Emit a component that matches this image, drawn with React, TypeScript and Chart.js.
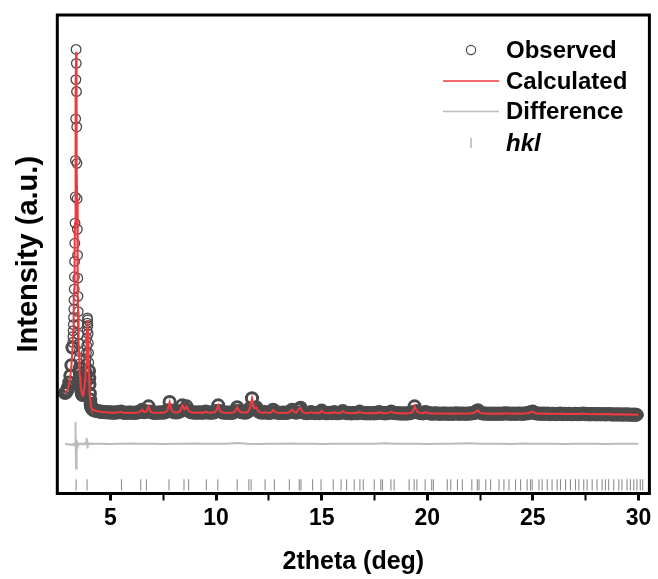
import { useEffect, useRef } from 'react';
import { Chart, registerables } from 'chart.js';
Chart.register(...registerables);

// ---- Data ----
// Main low-angle peak region (2theta, observed, calculated, difference)
const peakTheta = [
  2.85, 2.9, 2.95, 3.0, 3.05, 3.1, 3.15, 3.2,
  3.21, 3.22, 3.23, 3.24, 3.25, 3.26, 3.27, 3.28, 3.29, 3.3,
  3.31, 3.32, 3.33, 3.34, 3.35, 3.36, 3.37, 3.38, 3.39, 3.4,
  3.41, 3.42, 3.43, 3.44, 3.45, 3.46, 3.47, 3.48, 3.49, 3.5,
  3.51, 3.52, 3.53, 3.54, 3.55, 3.56, 3.57, 3.58, 3.59, 3.6,
  3.62, 3.64, 3.66, 3.68, 3.7, 3.72, 3.74, 3.76, 3.78, 3.8, 3.82, 3.84,
  3.85, 3.86, 3.87, 3.88, 3.89, 3.9, 3.91, 3.92, 3.93, 3.94, 3.95, 3.96, 3.97, 3.98, 3.99, 4.0,
  4.02, 4.04, 4.06, 4.08, 4.1, 4.15, 4.2, 4.25,
];
const peakObs = [
  21.0, 21.2, 21.6, 22.2, 23.2, 24.6, 26.8, 30.5,
  31.6, 32.8, 34.0, 35.3, 36.8, 38.5, 40.4, 42.7, 45.3, 48.5,
  52.3, 56.5, 62.0, 69.6, 78.3, 86.5, 92.8, 89.9, 84.0, 76.6,
  69.0, 61.6, 55.2, 49.8, 45.0, 41.2, 38.0, 35.4, 33.2, 31.3,
  29.7, 28.3, 27.1, 26.1, 25.2, 24.4, 23.7, 23.1, 22.6, 22.2,
  21.5, 21.0, 20.7, 20.6, 20.7, 21.0, 21.5, 22.2, 23.0, 24.0, 25.3, 27.0,
  28.1, 29.4, 30.9, 32.5, 34.1, 35.6, 36.7, 36.3, 35.1, 33.4, 31.4, 29.4, 27.4, 25.6, 24.1, 22.8,
  20.9, 19.6, 18.7, 18.2, 17.9, 17.6, 17.45, 17.35,
];
const peakCalc = [
  21.0, 21.2, 21.6, 22.2, 23.2, 24.6, 26.8, 30.5,
  31.6, 32.8, 34.0, 35.3, 36.8, 38.5, 40.4, 42.7, 45.3, 48.5,
  52.3, 56.5, 62.0, 68.5, 76.0, 85.0, 92.3, 91.5, 85.0, 77.0,
  69.0, 61.6, 55.2, 49.8, 45.0, 41.2, 38.0, 35.4, 33.2, 31.3,
  29.7, 28.3, 27.1, 26.1, 25.2, 24.4, 23.7, 23.1, 22.6, 22.2,
  21.5, 21.0, 20.7, 20.6, 20.7, 21.0, 21.5, 22.2, 23.0, 24.0, 25.3, 27.0,
  28.1, 29.4, 30.9, 32.5, 34.1, 35.3, 36.3, 36.0, 35.1, 33.4, 31.4, 29.4, 27.4, 25.6, 24.1, 22.8,
  20.9, 19.6, 18.7, 18.2, 17.9, 17.6, 17.45, 17.35,
];
const peakDiff = [
  10.4, 10.35, 10.3, 10.3, 10.25, 10.2, 10.2, 10.3,
  10.3, 10.3, 10.35, 10.3, 10.4, 10.4, 10.3, 10.4, 10.5, 10.6,
  10.4, 10.2, 9.8, 11.6, 15.0, 12.4, 5.2, 7.8, 11.2, 10.9,
  10.0, 10.6, 10.3, 10.4, 10.4, 10.45, 10.4, 10.4, 10.35, 10.4,
  10.4, 10.45, 10.4, 10.4, 10.4, 10.35, 10.4, 10.4, 10.4, 10.4,
  10.4, 10.4, 10.45, 10.4, 10.4, 10.4, 10.35, 10.4, 10.4, 10.4, 10.45, 10.4,
  10.4, 10.5, 10.8, 11.6, 10.9, 9.4, 10.0, 10.6, 10.4, 10.4, 10.4, 10.35, 10.4, 10.4, 10.4, 10.4,
  10.4, 10.4, 10.4, 10.45, 10.4, 10.4, 10.4, 10.4,
];

// Background region 4.3 .. 30.0 deg, step 0.1 (observed ~ calculated)
const baseStart = 4.3;
const baseStep = 0.1;
const baseProfile = [
  17.3, 17.2, 17.1, 17.05, 17.0, 17.0, 16.95,
  16.95, 16.9, 16.9, 16.95, 17.0, 17.1, 16.9, 16.85, 16.9, 16.9,
  16.9, 16.85, 16.9, 16.95, 17.1, 17.5, 17.0, 17.1, 18.2, 17.1,
  16.9, 16.85, 16.9, 16.9, 16.95, 16.9, 17.0, 17.4, 19.1, 17.3,
  17.0, 16.95, 17.0, 17.2, 18.4, 17.6, 18.2, 17.3, 17.0, 16.95,
  16.9, 16.9, 16.95, 16.9, 16.9, 17.1, 16.95, 16.9, 16.9, 16.95,
  17.2, 18.4, 17.2, 16.95, 16.9, 16.9, 16.9, 16.85, 16.9, 17.2,
  18.0, 17.2, 17.0, 16.95, 16.9, 17.1, 17.8, 19.9, 17.8, 18.0,
  17.2, 16.95, 16.9, 17.0, 16.9, 16.85, 16.9, 17.5, 17.0, 16.9,
  16.85, 16.85, 16.9, 16.85, 16.9, 17.1, 17.5, 17.0, 16.9, 17.6,
  17.9, 17.0, 16.85, 16.8, 16.85, 17.0, 16.85, 16.8, 16.85, 16.8,
  17.3, 16.9, 16.8, 16.8, 16.85, 16.8, 17.0, 16.8, 16.8, 16.9,
  17.2, 16.9, 16.8, 16.8, 16.75, 16.8, 16.8, 16.8, 17.1, 16.85,
  16.8, 16.75, 16.8, 16.75, 16.8, 16.75, 16.8, 17.0, 16.9, 16.8,
  16.75, 16.8, 16.9, 17.1, 16.85, 16.8, 16.75, 16.75, 16.7, 16.75,
  16.7, 16.75, 16.8, 17.0, 18.2, 17.2, 16.9, 16.8, 16.75, 17.0,
  16.9, 16.75, 16.7, 16.7, 16.75, 16.7, 16.65, 16.7, 16.7, 16.7,
  16.65, 16.7, 16.65, 16.7, 16.75, 16.65, 16.7, 16.7, 16.65, 16.7,
  16.7, 16.75, 16.8, 17.1, 17.4, 16.9, 16.75, 16.7, 16.7, 16.65,
  16.7, 16.65, 16.7, 16.65, 16.7, 16.65, 16.7, 16.75, 16.7, 16.7,
  16.65, 16.7, 16.65, 16.7, 16.7, 16.65, 16.7, 16.75, 16.8, 17.0,
  17.1, 16.8, 16.7, 16.7, 16.65, 16.7, 16.65, 16.7, 16.6, 16.65,
  16.65, 16.6, 16.65, 16.7, 16.6, 16.65, 16.6, 16.65, 16.6, 16.6,
  16.65, 16.6, 16.6, 16.65, 16.7, 16.6, 16.6, 16.55, 16.6, 16.6,
  16.55, 16.6, 16.55, 16.6, 16.55, 16.55, 16.6, 16.55, 16.5, 16.55,
  16.5, 16.55, 16.5, 16.5, 16.55, 16.5, 16.5, 16.45, 16.5, 16.45,
  16.45,
];

// Difference curve beyond the main peaks, 4.5 .. 30.0 deg, step 0.5
const diffStart = 4.5;
const diffStep = 0.5;
const diffProfile = [
  10.4, 10.35, 10.4, 10.45, 10.4, 10.4, 10.35, 10.4, 10.4, 10.45,
  10.4, 10.4, 10.4, 10.55, 10.4, 10.35, 10.4, 10.4, 10.45, 10.4,
  10.4, 10.35, 10.4, 10.4, 10.4, 10.4, 10.4, 10.5, 10.4, 10.4,
  10.4, 10.35, 10.4, 10.4, 10.45, 10.5, 10.4, 10.4, 10.4, 10.35,
  10.45, 10.4, 10.4, 10.4, 10.35, 10.4, 10.4, 10.4, 10.35, 10.4,
  10.4, 10.4,
];

// Bragg reflection (hkl) positions
const hklPositions = [
  3.37, 3.89, 5.52, 6.43, 6.7, 7.77, 8.48, 8.7, 9.54, 10.08, 11.0, 11.55, 11.66,
  12.32, 12.76, 13.47, 13.94, 14.02, 14.57, 14.97, 15.55, 15.92, 16.18, 16.54,
  16.81, 16.97, 17.49, 17.8, 17.88, 18.28, 18.43, 19.14, 19.38, 19.51, 19.9,
  20.21, 20.29, 20.95, 21.11, 21.43, 21.66, 22.11, 22.37, 22.45, 22.77, 23.0,
  23.4, 23.63, 23.87, 24.18, 24.42, 24.73, 24.89, 24.97, 25.29, 25.44, 25.68,
  25.91, 26.15, 26.31, 26.55, 26.78, 27.02, 27.18, 27.41, 27.57, 27.81, 28.04,
  28.28, 28.44, 28.59, 28.83, 29.07, 29.22, 29.46, 29.62, 29.78, 29.93, 30.09, 30.2,
];
const hklLevel = 1.8;

const xTickValues = [5, 7.5, 10, 12.5, 15, 17.5, 20, 22.5, 25, 27.5, 30];
const xMin = 2.48;
const xMax = 30.52;
const yMin = 0;
const yMax = 100;

const legendLabels = ['Observed', 'Calculated', 'Difference', 'hkl'];
const xTitle = '2theta (deg)';
const yTitle = 'Intensity (a.u.)';

const FONT = '"Liberation Sans", Arial, Helvetica, sans-serif';

const COLORS = {
  obs: '#4a4a4a',
  calc: '#ee3a3f',
  diff: '#bbbbbb',
  hkl: '#8e8e8e',
};

const framePlugin = {
  id: 'frame',
  afterDatasetsDraw(chart: any) {
    const { ctx, chartArea } = chart;
    ctx.save();
    ctx.strokeStyle = '#000';
    ctx.lineWidth = 3;
    ctx.strokeRect(chartArea.left, chartArea.top, chartArea.right - chartArea.left, chartArea.bottom - chartArea.top);
    ctx.restore();
  },
};

const legendPlugin = {
  id: 'customLegend',
  afterDraw(chart: any) {
    const { ctx } = chart;
    const textX = 506;
    const markX = 471;
    const rows = [50, 81, 111.5, 143];
    ctx.save();
    ctx.textBaseline = 'middle';
    ctx.textAlign = 'left';
    ctx.fillStyle = '#000';
    ctx.beginPath();
    ctx.arc(markX, rows[0], 4.6, 0, Math.PI * 2);
    ctx.strokeStyle = COLORS.obs;
    ctx.lineWidth = 1.2;
    ctx.stroke();
    ctx.beginPath();
    ctx.moveTo(443, rows[1]);
    ctx.lineTo(499, rows[1]);
    ctx.strokeStyle = COLORS.calc;
    ctx.lineWidth = 1.6;
    ctx.stroke();
    ctx.beginPath();
    ctx.moveTo(443, rows[2]);
    ctx.lineTo(499, rows[2]);
    ctx.strokeStyle = COLORS.diff;
    ctx.lineWidth = 1.6;
    ctx.stroke();
    ctx.beginPath();
    ctx.moveTo(markX, rows[3] - 5);
    ctx.lineTo(markX, rows[3] + 5);
    ctx.strokeStyle = COLORS.hkl;
    ctx.lineWidth = 1;
    ctx.stroke();

    legendLabels.forEach((label, i) => {
      ctx.font = (i === 3 ? 'italic bold ' : 'bold ') + '24px ' + FONT;
      ctx.fillText(label, textX, rows[i] + 1);
    });
    ctx.restore();
  },
};

export default function App() {
  const canvasRef = useRef<HTMLCanvasElement | null>(null);

  useEffect(() => {
    if (!canvasRef.current) return;

    const baseTheta = baseProfile.map((_, i) => +(baseStart + i * baseStep).toFixed(2));
    const observed = peakTheta
      .map((x, i) => ({ x, y: peakObs[i] }))
      .concat(baseTheta.map((x, i) => ({ x, y: baseProfile[i] })));
    const calculated = peakTheta
      .map((x, i) => ({ x, y: peakCalc[i] }))
      .concat(baseTheta.map((x, i) => ({ x, y: baseProfile[i] })));
    const difference = peakTheta
      .map((x, i) => ({ x, y: peakDiff[i] }))
      .concat(diffProfile.map((y, i) => ({ x: +(diffStart + i * diffStep).toFixed(2), y })));
    const hkl = hklPositions.map((x) => ({ x, y: hklLevel }));

    // Stretches where the measured points crowd together get a heavier ring so the
    // overlapping circles read as the solid band seen in the reference.
    const crowded = (c: any) => {
      const p = c.raw || { x: 0, y: 0 };
      if (p.x >= 30) return false;
      if (p.x > 3.2 && p.x < 4.26) return p.y < 27;
      return true;
    };
    const ringWidth = (c: any) => (crowded(c) ? 3 : 1.3);
    const ringRadius = (c: any) => (crowded(c) ? 5.6 : 4.8);

    const chart = new Chart(canvasRef.current, {
      type: 'scatter',
      data: {
        datasets: [
          {
            label: 'Calculated',
            data: calculated,
            showLine: true,
            borderColor: COLORS.calc,
            borderWidth: 2,
            pointRadius: 0,
            tension: 0,
          } as any,
          {
            label: 'Difference',
            data: difference,
            showLine: true,
            borderColor: COLORS.diff,
            borderWidth: 2,
            pointRadius: 0,
            tension: 0,
          },
          {
            label: 'hkl',
            data: hkl,
            showLine: false,
            pointStyle: 'line',
            rotation: 90,
            pointRadius: 5.6,
            borderColor: COLORS.hkl,
            pointBorderColor: COLORS.hkl,
            pointBorderWidth: 1.1,
            borderWidth: 1.1,
          },
          {
            label: 'Observed',
            data: observed,
            showLine: false,
            pointStyle: 'circle',
            pointRadius: ringRadius,
            pointBorderWidth: ringWidth,
            pointBorderColor: COLORS.obs,
            pointBackgroundColor: 'rgba(0,0,0,0)',
          },
        ],
      },
      options: {
        animation: false,
        responsive: true,
        maintainAspectRatio: false,
        events: [],
        layout: { padding: { top: 15, right: 7, left: 0, bottom: 0 } },
        plugins: {
          legend: { display: false },
          tooltip: { enabled: false },
        },
        scales: {
          x: {
            type: 'linear',
            min: xMin,
            max: xMax,
            afterBuildTicks: (scale: any) => {
              scale.ticks = xTickValues.map((v) => ({ value: v }));
            },
            afterFit: (scale: any) => {
              scale.height = 85.5;
            },
            ticks: {
              autoSkip: false,
              maxRotation: 0,
              padding: 4,
              color: '#000',
              font: { family: FONT, size: 23, weight: 'bold' },
              callback: (v: any) => (Number(v) % 5 === 0 ? String(v) : ''),
            },
            grid: {
              display: true,
              drawOnChartArea: false,
              drawTicks: true,
              tickLength: 7,
              tickWidth: (c: any) => (c.tick && c.tick.value % 5 === 0 ? 3 : 2),
              tickColor: '#000',
            },
            border: { display: false },
            title: {
              display: true,
              text: xTitle,
              color: '#000',
              font: { family: FONT, size: 25, weight: 'bold' },
              padding: { top: 0, bottom: 2 },
            },
          },
          y: {
            type: 'linear',
            min: yMin,
            max: yMax,
            afterFit: (scale: any) => {
              scale.width = 57.3;
            },
            ticks: { display: false },
            grid: { display: false, drawTicks: false },
            border: { display: false },
            title: {
              display: true,
              text: yTitle,
              color: '#000',
              font: { family: FONT, size: 29, weight: 'bold' },
              padding: { top: 11.5, bottom: 0 },
            },
          },
        },
      } as any,
      plugins: [framePlugin, legendPlugin],
    });

    return () => chart.destroy();
  }, []);

  return (
    <div style={{ position: 'absolute', left: 0, top: 0, width: 658, height: 579, background: '#fff' }}>
      <canvas ref={canvasRef} />
    </div>
  );
}
